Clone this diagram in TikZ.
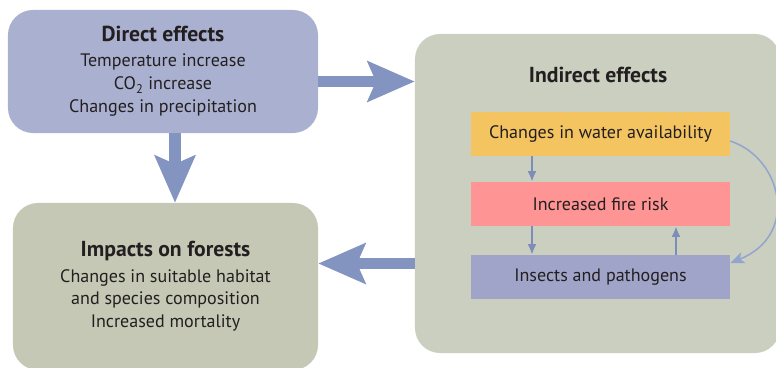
\documentclass[tikz,border=0pt]{standalone}
\usepackage{fontspec}
\setmainfont{PT Sans}
\usetikzlibrary{arrows.meta}

\definecolor{inkcol}{HTML}{231F20}
\definecolor{directcol}{HTML}{AAB0D0}
\definecolor{indirectcol}{HTML}{CBCFBF}
\definecolor{impactcol}{HTML}{C5C8B4}
\definecolor{watercol}{HTML}{F3C460}
\definecolor{firecol}{HTML}{FF9494}
\definecolor{insectcol}{HTML}{A0A4C8}
\definecolor{bigarrowcol}{HTML}{8294BF}
\definecolor{smallarrowcol}{HTML}{7D8CB8}
\definecolor{curvecol}{HTML}{92A5D0}

\newcommand{\headtxt}[1]{{\fontsize{18.5}{20}\selectfont\bfseries #1}}

\begin{document}
\begin{tikzpicture}[
			x=0.03cm, y=-0.03cm,
			every node/.style={font=\fontsize{15.4}{19.6}\selectfont, text=inkcol, align=center},
			bigbox/.style={rounded corners=0.75cm, inner sep=0pt},
			flatbox/.style={inner sep=0pt, minimum width=7.77cm, minimum height=1.32cm},
			bigarrow/.style={-{Stealth[length=40pt, width=34pt, inset=7pt]}, line width=10pt, bigarrowcol},
			smallarrow/.style={-{Latex[length=9pt, width=7.5pt]}, line width=2pt, smallarrowcol},
		]
		\path[use as bounding box] (0,0) rectangle (776,368);
		\node[bigbox, fill=indirectcol, minimum width=10.95cm, minimum height=9.57cm] (indirect) at (597.5,193.5) {};
		\node[bigbox, fill=directcol, minimum width=9.3cm, minimum height=3.69cm] (direct) at (163,71.5)
			{\headtxt{Direct effects}\\[2pt]Temperature increase\\CO\textsubscript{2} increase\\Changes in precipitation};
		\node[bigbox, fill=impactcol, minimum width=9.15cm, minimum height=5.01cm] (impacts) at (165.5,286.5)
			{\headtxt{Impacts on forests}\\[2pt]Changes in suitable habitat\\and species composition\\Increased mortality};
		\node (indtitle) at (598,75) {\headtxt{Indirect effects}};
		\node[flatbox, fill=watercol] (water) at (600.5,134) {Changes in water availability};
		\node[flatbox, fill=firecol] (fire) at (600.5,204) {Increased fire risk};
		\node[flatbox, fill=insectcol] (insects) at (600.5,277) {Insects and pathogens};

		\coordinate (ry) at (0,81.5);
		\coordinate (ly) at (0,263.5);
		\coordinate (dx) at (175,0);
		\coordinate (lx) at (532,0);
		\coordinate (rx) at (676,0);

		\draw[bigarrow] (direct.east |- ry) -- (indirect.west |- ry);
		\draw[bigarrow] (direct.south -| dx) -- (impacts.north -| dx);
		\draw[bigarrow] (indirect.west |- ly) -- (impacts.east |- ly);

		\draw[smallarrow] (water.south -| lx) -- (fire.north -| lx);
		\draw[smallarrow] (fire.south -| lx) -- (insects.north -| lx);
		\draw[smallarrow] (insects.north -| rx) -- (fire.south -| rx);
		\draw[-{Stealth[length=12pt, width=10pt, inset=3pt]}, line width=1.3pt, curvecol]
			([yshift=-0.21cm]water.east) .. controls (782,158) and (800,235) .. ([yshift=0.42cm]insects.east);
	\end{tikzpicture}
\end{document}
